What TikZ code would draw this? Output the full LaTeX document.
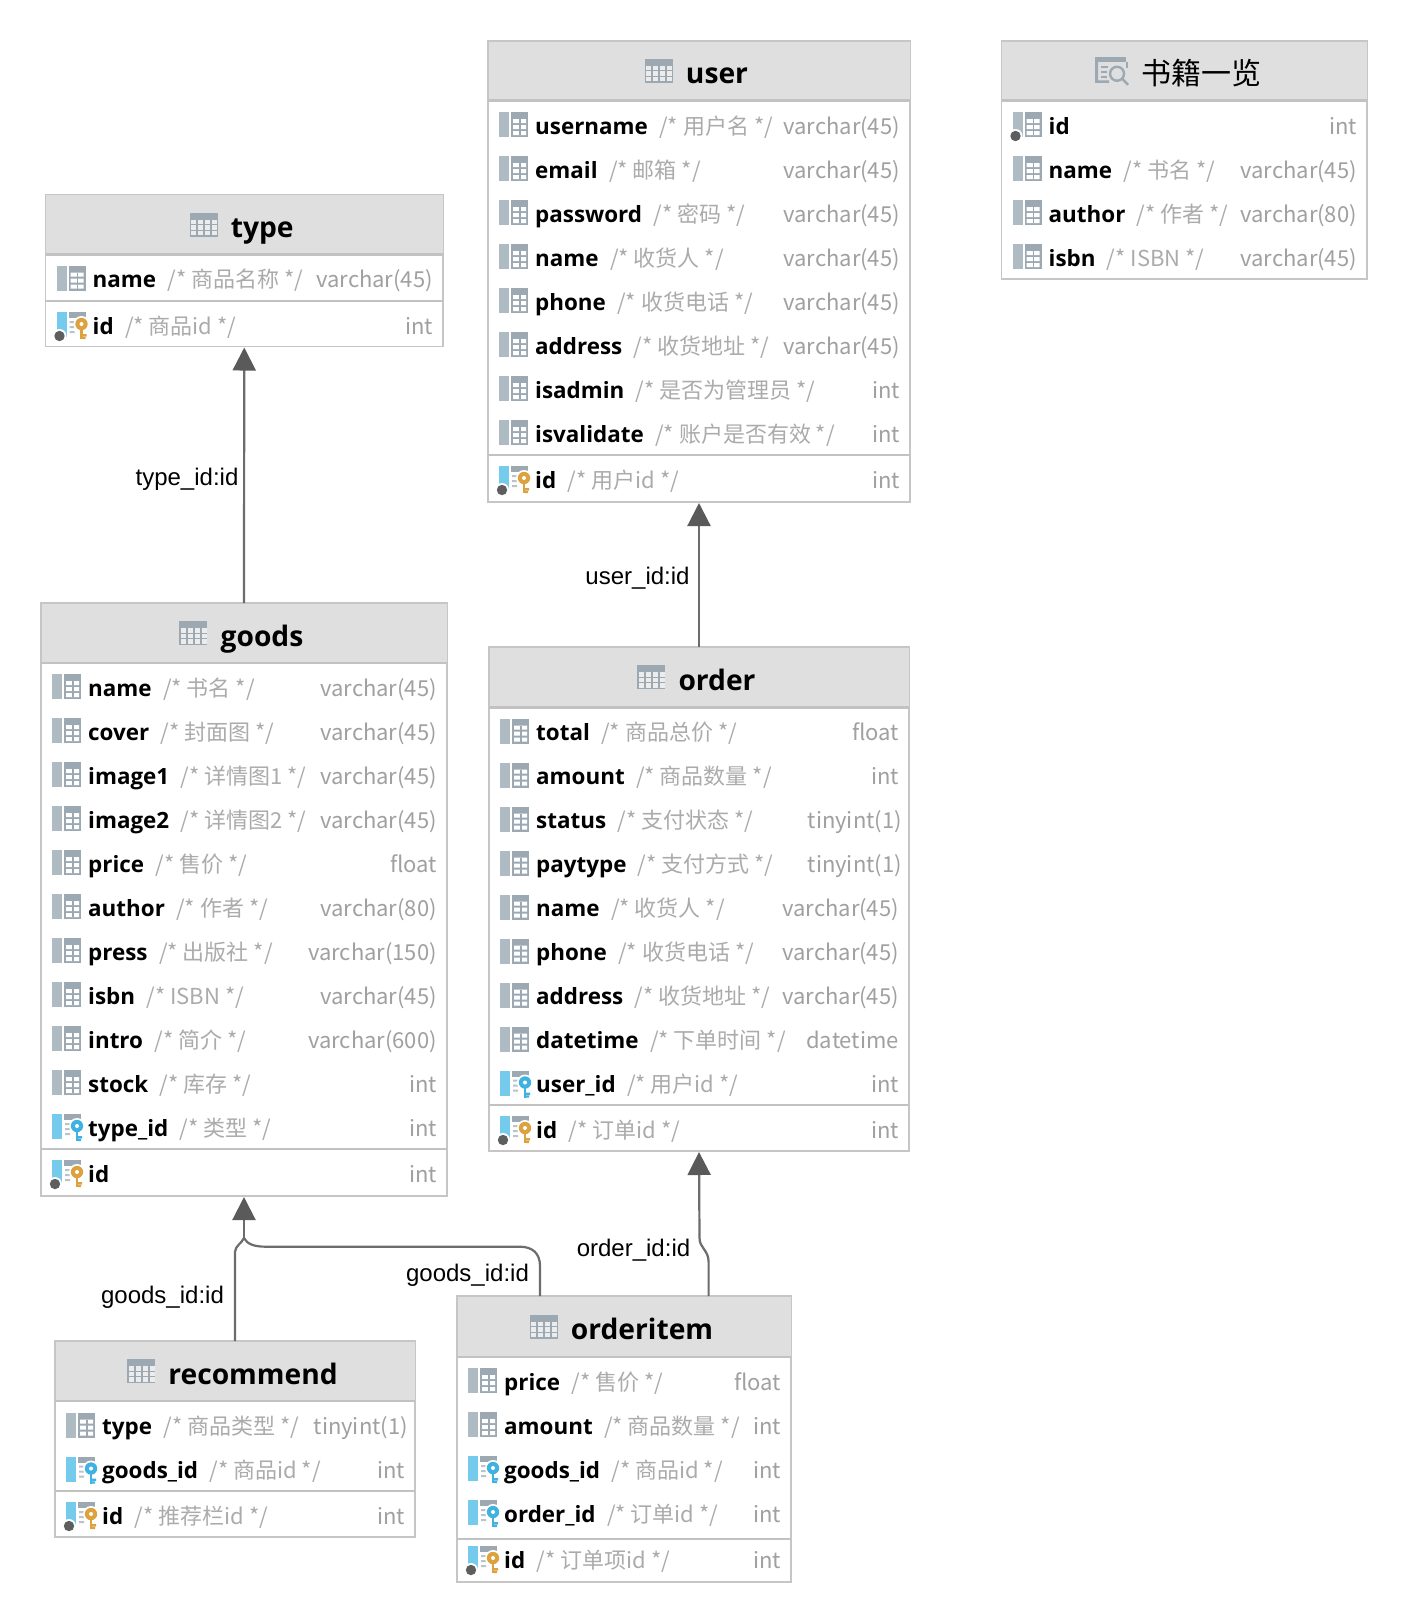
\documentclass[tikz,border=0pt]{standalone}
\usepackage{fontspec}
\usetikzlibrary{arrows.meta,calc}
\setmainfont{Liberation Sans}
\newfontfamily\nmfont{Open Sans}
\newfontfamily\cjkfont{Noto Sans CJK SC}
\definecolor{framec}{HTML}{C6C6C6}
\definecolor{headc}{HTML}{DFDFDF}
\definecolor{sepc}{HTML}{C2C2C2}
\definecolor{barc}{HTML}{AEBBC3}
\definecolor{gridc}{HTML}{9CA9B2}
\definecolor{bluebar}{HTML}{75CBEC}
\definecolor{bluekey}{HTML}{3FB2E2}
\definecolor{goldkey}{HTML}{DDA23E}
\definecolor{dotc}{HTML}{5E5E5E}
\definecolor{commc}{HTML}{ABABAB}
\definecolor{typec}{HTML}{A0A0A0}
\definecolor{linkc}{HTML}{6C6C6C}
\definecolor{tipc}{HTML}{5A5A5A}
\tikzset{
  frame/.style={draw=framec,line width=1.6pt,fill=white,inner sep=0pt,outer sep=0pt},
  headbox/.style={fill=headc,inner sep=0pt,outer sep=0pt},
  headline/.style={draw=sepc,line width=2.2pt},
  sepline/.style={draw=sepc,line width=2pt},
  titletext/.style={font=\nmfont\bfseries\fontsize{28.2}{32}\selectfont,inner sep=0pt,text=black},
  viewtext/.style={font=\cjkfont\fontsize{30}{32}\selectfont,inner sep=0pt,text=black},
  colname/.style={font=\nmfont\bfseries\fontsize{22.4}{26}\selectfont,inner sep=0pt,anchor=base west,text=black},
  colcomm/.style={font=\cjkfont\fontsize{22}{26}\selectfont,inner sep=0pt,anchor=base west,text=commc},
  coltype/.style={font=\cjkfont\fontsize{22}{26}\selectfont,inner sep=0pt,anchor=base east,text=typec},
  linklabel/.style={font=\fontsize{24}{26}\selectfont,inner sep=0pt,text=black},
  link/.style={draw=linkc,line width=2.2pt},
  linkarrow/.style={link,-{Triangle[length=23pt,width=23pt,fill=tipc,color=tipc]},shorten >=1pt},
}
\catcode`\_=12
\def\tL{0}\def\tR{0}\def\tId{}
% ---- icons (origin at the icon's left edge, row centre)
\newcommand\gridpart{%
  \fill[gridc] (12,-14) rectangle (29,11);
  \fill[white] (14,-7) rectangle (27,-3) (14,-1) rectangle (27,3) (14,5) rectangle (27,9);
  \fill[gridc] (20,-7) rectangle (21.5,9);
}
\newcommand\keypart[1]{%
  \fill[white] (12,-7) rectangle (29,11);
  \fill[gridc] (12,-14) rectangle (29,-8);
  \fill[gridc!70] (13,-5) rectangle (18,-3) (13,0) rectangle (18,2) (13,5) rectangle (18,7);
  \fill[white] (25,-2) circle (8);
  \fill[#1] (25,-2) circle (6.2);
  \fill[white] (25,-2) circle (2);
  \fill[#1] (23.6,2) rectangle (26.4,13);
  \fill[#1] (26,8) rectangle (30,10.5) (26,11) rectangle (29,13);
}
\newcommand\dotpart{%
  \fill[white] (3,10) circle (7);
  \fill[dotc] (3,10) circle (5.2);
}
\newcommand\iconcol{\fill[barc] (0,-14) rectangle (10,11);\gridpart}
\newcommand\icondot{\iconcol\dotpart}
\newcommand\iconfk{\fill[bluebar] (0,-14) rectangle (10,11);\keypart{bluekey}}
\newcommand\iconpk{\fill[bluebar] (0,-14) rectangle (10,11);\keypart{goldkey}\dotpart}
\newcommand\icontable{%
  \fill[gridc] (-41,-12) rectangle (-13,12);
  \foreach \a in {-39.5,-32.5,-25.5,-18.5}{\foreach \b in {-5,0.5,6}{
    \fill[headc!60!white] (\a,\b) rectangle ++(5,4.5);}}
}
\newcommand\iconview{%
  \fill[gridc] (-46,-14) rectangle (-15,-9);
  \fill[gridc] (-46,-9) rectangle (-43,12) (-43,9.5) rectangle (-32,12);
  \fill[gridc] (-15,-9) rectangle (-13,-3);
  \draw[gridc,line width=2pt] (-40,-3.5) -- (-33,-3.5) (-40,1.5) -- (-34,1.5) (-40,6.5) -- (-34,6.5);
  \draw[gridc,line width=2.4pt] (-24,3) circle (7) (-19,8) -- (-13,14);
}
% ---- table: id, L, T, R, B, header bottom, title text
\newcommand\dbtable[7]{%
  \def\tId{#1}\def\tL{#2}\def\tR{#4}%
  \node[frame,minimum width={(#4-#2)*1pt},minimum height={(#5-#3)*1pt}] (#1) at ({(#2+#4)/2},{(#3+#5)/2}) {};
  \node[headbox,minimum width={(#4-#2-1)*1pt},minimum height={(#6-#3-1)*1pt}] (#1-header) at ({(#2+#4)/2},{(#3+#6)/2}) {};
  \draw[headline] (#2,#6) -- (#4,#6);
  \node[titletext,anchor=base] (#1-title) at ({(#2+#4)/2+18},{(#3+#6)/2+13}) {#7};
  \begin{scope}[shift={(#1-title.west |- #1-header.center)}]\icontable\end{scope}
}
\newcommand\dbview[7]{%
  \def\tId{#1}\def\tL{#2}\def\tR{#4}%
  \node[frame,minimum width={(#4-#2)*1pt},minimum height={(#5-#3)*1pt}] (#1) at ({(#2+#4)/2},{(#3+#5)/2}) {};
  \node[headbox,minimum width={(#4-#2-1)*1pt},minimum height={(#6-#3-1)*1pt}] (#1-header) at ({(#2+#4)/2},{(#3+#6)/2}) {};
  \draw[headline] (#2,#6) -- (#4,#6);
  \node[viewtext,anchor=base] (#1-title) at ({(#2+#4)/2+17},{(#3+#6)/2+14}) {#7};
  \begin{scope}[shift={(#1-title.west |- #1-header.center)}]\iconview\end{scope}
}
% ---- row: icon macro, y, column name, comment, type
\newcommand\dbrow[5]{%
  \begin{scope}[shift={({\tL+11},{#2})}]#1\end{scope}
  \node[colname] (\tId-#3) at ({\tL+47},{#2+8}) {#3};
  \def\tmpc{#4}\ifx\tmpc\empty\else
    \node[colcomm] (\tId-#3-comment) at ($(\tId-#3.base east)+(11,0)$) {#4};
  \fi
  \node[coltype] (\tId-#3-type) at ({\tR-10},{#2+8}) {#5};
}
\newcommand\dbsep[1]{\draw[sepline] (\tL,#1) -- (\tR,#1);}
\begin{document}
\begin{tikzpicture}[x=1pt,y=-1pt]
\useasboundingbox (0,0) rectangle (1408,1622);
\fill[white] (0,0) rectangle (1408,1622);

% ======= type
\dbtable{type}{45.5}{194.5}{443}{346.5}{254.5}{type}
\dbrow{\iconcol}{279.5}{name}{/* 商品名称 */}{varchar(45)}
\dbsep{301}
\dbrow{\iconpk}{326}{id}{/* 商品id */}{int}

% ======= user
\dbtable{user}{488}{41}{910}{502}{100.5}{user}
\dbrow{\iconcol}{126}{username}{/* 用户名 */}{varchar(45)}
\dbrow{\iconcol}{170}{email}{/* 邮箱 */}{varchar(45)}
\dbrow{\iconcol}{214}{password}{/* 密码 */}{varchar(45)}
\dbrow{\iconcol}{258}{name}{/* 收货人 */}{varchar(45)}
\dbrow{\iconcol}{302}{phone}{/* 收货电话 */}{varchar(45)}
\dbrow{\iconcol}{346}{address}{/* 收货地址 */}{varchar(45)}
\dbrow{\iconcol}{390}{isadmin}{/* 是否为管理员 */}{int}
\dbrow{\iconcol}{434}{isvalidate}{/* 账户是否有效 */}{int}
\dbsep{455}
\dbrow{\iconpk}{480}{id}{/* 用户id */}{int}

% ======= view
\dbview{books}{1001.5}{41}{1367}{279}{100.5}{书籍一览}
\dbrow{\icondot}{126}{id}{}{int}
\dbrow{\iconcol}{170}{name}{/* 书名 */}{varchar(45)}
\dbrow{\iconcol}{214}{author}{/* 作者 */}{varchar(80)}
\dbrow{\iconcol}{258}{isbn}{/* ISBN */}{varchar(45)}

% ======= goods
\dbtable{goods}{41}{603}{447}{1196}{663}{goods}
\dbrow{\iconcol}{688}{name}{/* 书名 */}{varchar(45)}
\dbrow{\iconcol}{732}{cover}{/* 封面图 */}{varchar(45)}
\dbrow{\iconcol}{776}{image1}{/* 详情图1 */}{varchar(45)}
\dbrow{\iconcol}{820}{image2}{/* 详情图2 */}{varchar(45)}
\dbrow{\iconcol}{864}{price}{/* 售价 */}{float}
\dbrow{\iconcol}{908}{author}{/* 作者 */}{varchar(80)}
\dbrow{\iconcol}{952}{press}{/* 出版社 */}{varchar(150)}
\dbrow{\iconcol}{996}{isbn}{/* ISBN */}{varchar(45)}
\dbrow{\iconcol}{1040}{intro}{/* 简介 */}{varchar(600)}
\dbrow{\iconcol}{1084}{stock}{/* 库存 */}{int}
\dbrow{\iconfk}{1128}{type_id}{/* 类型 */}{int}
\dbsep{1149}
\dbrow{\iconpk}{1174}{id}{}{int}

% ======= order
\dbtable{order}{489}{647}{909}{1151}{707.5}{order}
\dbrow{\iconcol}{732.5}{total}{/* 商品总价 */}{float}
\dbrow{\iconcol}{776.5}{amount}{/* 商品数量 */}{int}
\dbrow{\iconcol}{820.5}{status}{/* 支付状态 */}{tinyint(1)\kern-3pt}
\dbrow{\iconcol}{864.5}{paytype}{/* 支付方式 */}{tinyint(1)\kern-3pt}
\dbrow{\iconcol}{908.5}{name}{/* 收货人 */}{varchar(45)}
\dbrow{\iconcol}{952.5}{phone}{/* 收货电话 */}{varchar(45)}
\dbrow{\iconcol}{996.5}{address}{/* 收货地址 */}{varchar(45)}
\dbrow{\iconcol}{1040.5}{datetime}{/* 下单时间 */}{datetime}
\dbrow{\iconfk}{1084.5}{user_id}{/* 用户id */}{int}
\dbsep{1105}
\dbrow{\iconpk}{1130}{id}{/* 订单id */}{int}

% ======= recommend
\dbtable{recommend}{55}{1341}{415}{1537}{1401}{recommend}
\dbrow{\iconcol}{1426.5}{type}{/* 商品类型 */}{tinyint(1)\kern-3pt}
\dbrow{\iconfk}{1470.5}{goods_id}{/* 商品id */}{int}
\dbsep{1491}
\dbrow{\iconpk}{1516}{id}{/* 推荐栏id */}{int}

% ======= orderitem
\dbtable{orderitem}{457}{1296}{791}{1582}{1357}{orderitem}
\dbrow{\iconcol}{1382}{price}{/* 售价 */}{float}
\dbrow{\iconcol}{1426}{amount}{/* 商品数量 */}{int}
\dbrow{\iconfk}{1470}{goods_id}{/* 商品id */}{int}
\dbrow{\iconfk}{1514}{order_id}{/* 订单id */}{int}
\dbsep{1539}
\dbrow{\iconpk}{1560}{id}{/* 订单项id */}{int}

% ======= connectors
\coordinate (joint) at (244,1238);
\coordinate (oi-goods) at (540,1296);
\coordinate (oi-order) at (708.6,1296);
\draw[linkarrow] (goods.north) -- (type.south);
\draw[linkarrow] (order.north) -- (user.south);
\draw[link] (recommend.north) -- (235,1252) .. controls (235,1246) and (242,1243) .. (joint);
\draw[link] (oi-goods) -- (540,1266) .. controls (540,1253) and (532,1246.7) .. (520,1246.7)
   -- (266,1246.7) .. controls (254,1246.7) and (247,1244) .. (joint);
\draw[linkarrow] (joint) -- (goods.south);
\draw[linkarrow] (oi-order) -- (708.6,1262) .. controls (708.6,1250) and (699.5,1248) .. (699.5,1238) -- (order.south);

\node[linklabel] (lbl-type) at (187,479) {type_id:id};
\node[linklabel] (lbl-user) at (637.5,578) {user_id:id};
\node[linklabel] (lbl-goods1) at (162.5,1297) {goods_id:id};
\node[linklabel] (lbl-goods2) at (467.5,1275) {goods_id:id};
\node[linklabel] (lbl-order) at (633.5,1250) {order_id:id};
\end{tikzpicture}
\end{document}
